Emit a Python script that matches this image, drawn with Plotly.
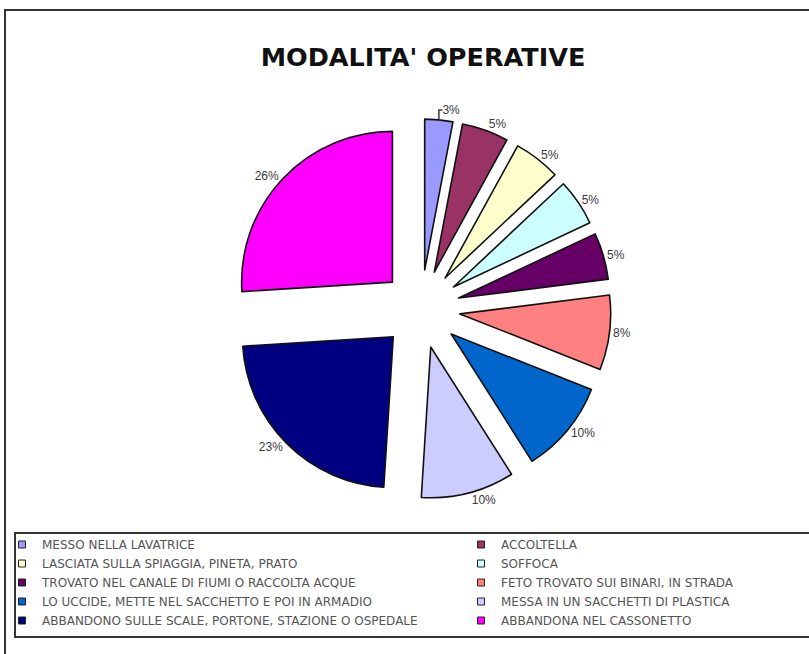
import plotly.graph_objects as go

W, H = 809, 654

categories = [
    "MESSO NELLA LAVATRICE",
    "ACCOLTELLA",
    "LASCIATA SULLA SPIAGGIA, PINETA, PRATO",
    "SOFFOCA",
    "TROVATO NEL CANALE DI FIUMI O RACCOLTA ACQUE",
    "FETO TROVATO SUI BINARI, IN STRADA",
    "LO UCCIDE, METTE NEL SACCHETTO E POI IN ARMADIO",
    "MESSA IN UN SACCHETTI DI PLASTICA",
    "ABBANDONO SULLE SCALE, PORTONE, STAZIONE O OSPEDALE",
    "ABBANDONA NEL CASSONETTO",
]
percentages = [3, 5, 5, 5, 5, 8, 10, 10, 23, 26]
colors = [
    "#9999FF", "#993366", "#FFFFCC", "#CCFFFF", "#660066",
    "#FF8080", "#0066CC", "#CCCCFF", "#000080", "#FF00FF",
]


def px_x(x):
    return x / W


def px_y(y):
    return 1 - y / H


# pie centre and overall extent (radius incl. pull) in pixels
CX, CY, R_OUT = 421, 309, 190

fig = go.Figure()

fig.add_trace(
    go.Pie(
        labels=categories,
        values=percentages,
        sort=False,
        direction="clockwise",
        rotation=0,
        pull=0.26,
        marker=dict(colors=colors, line=dict(color="#111111", width=1.6)),
        texttemplate="%{value}%",
        textposition="outside",
        textfont=dict(family="Liberation Sans, Arial", size=12, color="#3a3a3a"),
        outsidetextfont=dict(family="Liberation Sans, Arial", size=12, color="#3a3a3a"),
        domain=dict(x=[px_x(CX - R_OUT), px_x(CX + R_OUT)],
                    y=[px_y(CY + R_OUT), px_y(CY - R_OUT)]),
        hoverinfo="label+percent",
        showlegend=False,
    )
)

# Two-column key: odd entries in the left column, even entries in the right
for i, (name, col) in enumerate(zip(categories, colors)):
    fig.add_trace(
        go.Scatter(
            x=[None], y=[None],
            mode="markers",
            name=name,
            marker=dict(symbol="square", size=7, color=col,
                        line=dict(color="#222222", width=1)),
            legend="legend" if i % 2 == 0 else "legend2",
            hoverinfo="skip",
        )
    )

legend_font = dict(family="DejaVu Sans", size=12, color="#555555")

fig.update_layout(
    width=W,
    height=H,
    margin=dict(l=0, r=0, t=0, b=0, autoexpand=False),
    paper_bgcolor="white",
    plot_bgcolor="rgba(0,0,0,0)",
    xaxis=dict(visible=False),
    yaxis=dict(visible=False),
    title=dict(
        text="MODALITA' OPERATIVE",
        x=px_x(423),
        xanchor="center",
        y=px_y(57),
        yanchor="middle",
        font=dict(family="DejaVu Sans", size=25.5, color="#111111", weight="bold"),
    ),
    legend=dict(
        orientation="v",
        x=px_x(2), xanchor="left",
        y=px_y(530), yanchor="top",
        bgcolor="rgba(0,0,0,0)",
        borderwidth=0,
        font=legend_font,
        itemwidth=30,
        tracegroupgap=0,
    ),
    legend2=dict(
        orientation="v",
        x=px_x(461), xanchor="left",
        y=px_y(530), yanchor="top",
        bgcolor="rgba(0,0,0,0)",
        borderwidth=0,
        font=legend_font,
        itemwidth=30,
        tracegroupgap=0,
    ),
    shapes=[
        # outer chart frame
        dict(
            type="rect", xref="paper", yref="paper",
            x0=px_x(5), x1=px_x(820), y0=px_y(670), y1=px_y(10),
            line=dict(color="#333333", width=2), fillcolor="rgba(0,0,0,0)",
            layer="above",
        ),
        # key frame
        dict(
            type="rect", xref="paper", yref="paper",
            x0=px_x(15), x1=px_x(820), y0=px_y(637), y1=px_y(533),
            line=dict(color="#333333", width=2), fillcolor="rgba(0,0,0,0)",
            layer="above",
        ),
    ],
)

fig.write_html("out.html")
